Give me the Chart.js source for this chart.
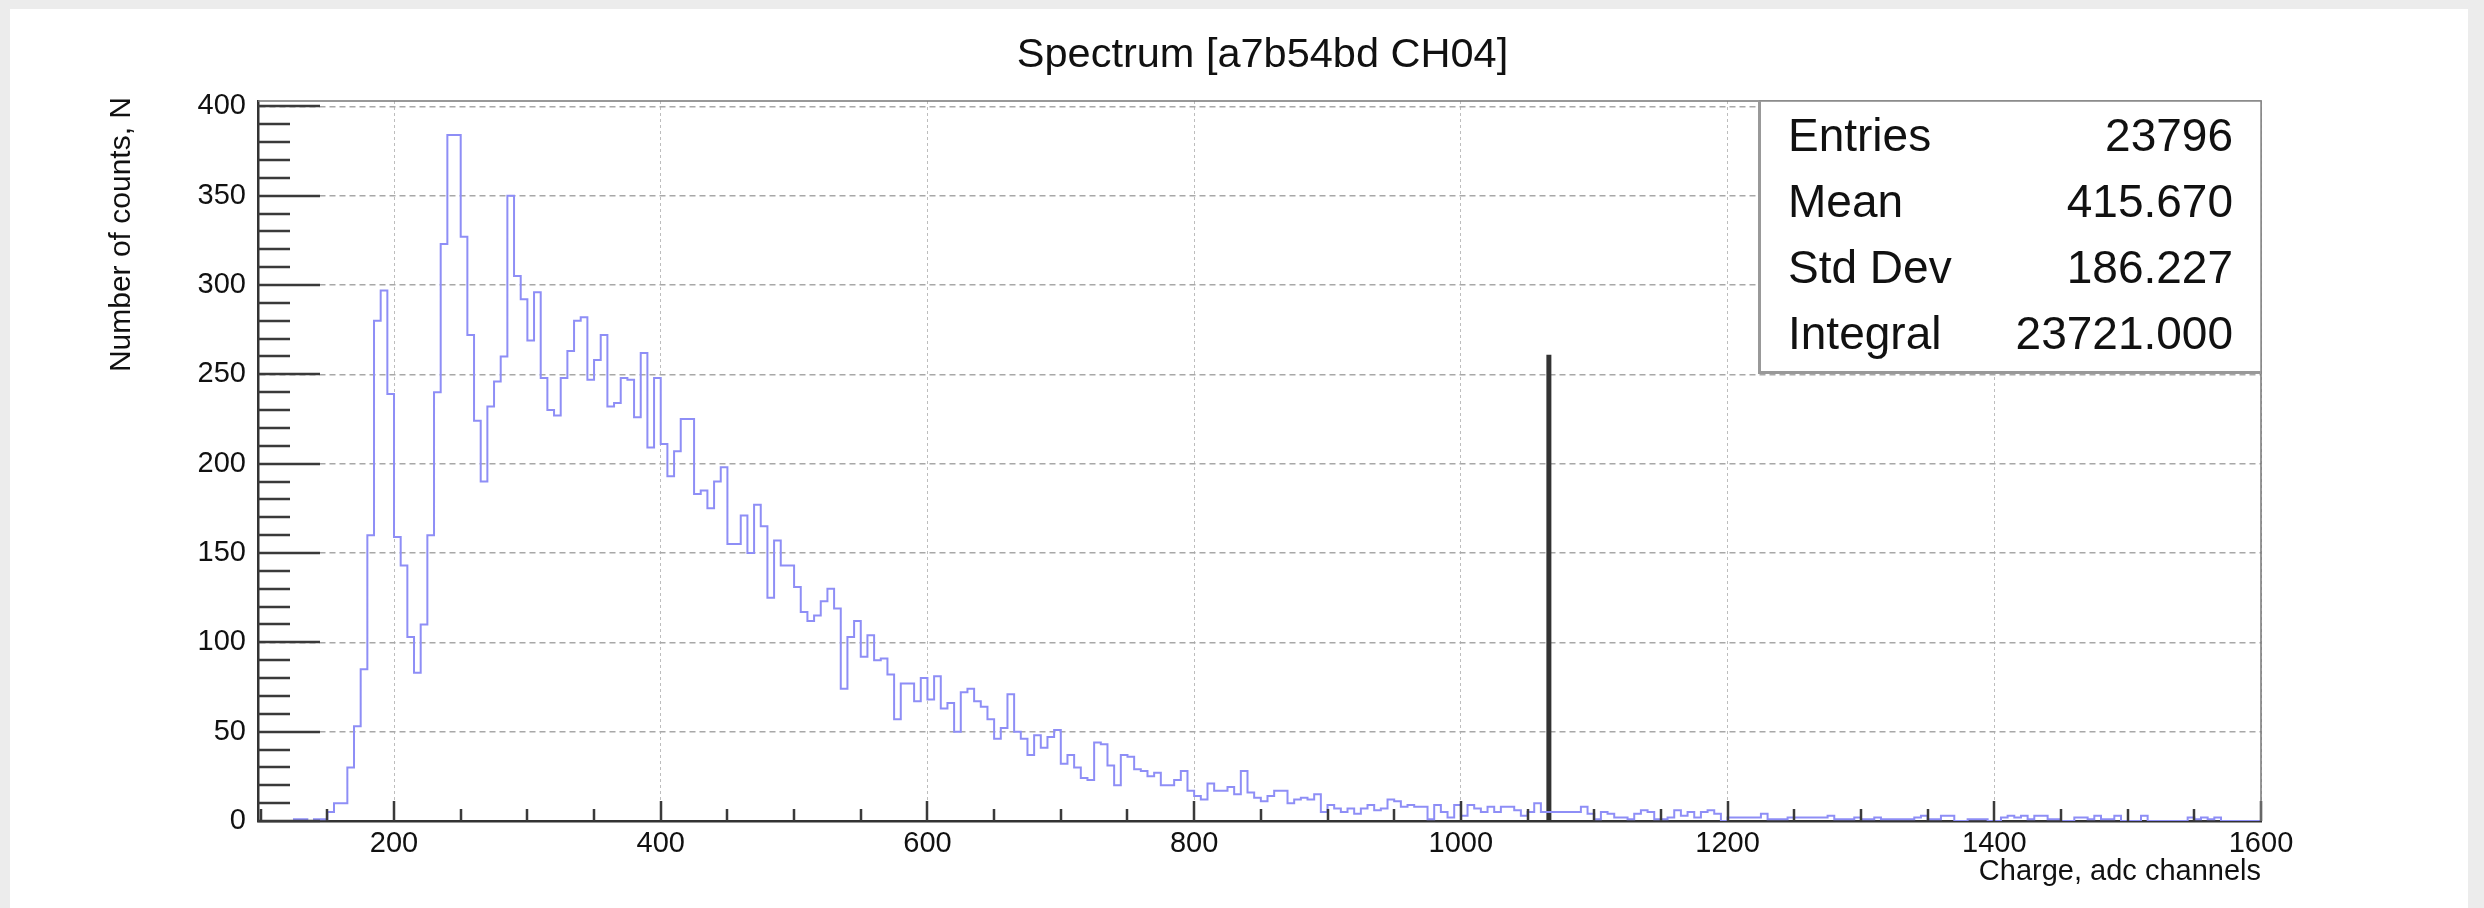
<!DOCTYPE html>
<html>
<head>
<meta charset="utf-8">
<title>Spectrum [a7b54bd CH04]</title>
<script src="https://cdn.jsdelivr.net/npm/chart.js@4.4.0/dist/chart.umd.min.js"></script>
<style>
    html, body { margin: 0; padding: 0; background: #fff; }
    canvas { display: block; }
</style>
</head>
<body>
<canvas id="spectrum" width="2484" height="908"></canvas>
<script>
// binning of the charge histogram, adc channels
const binStart = 100;
const binWidth = 5;

// counts per bin, one row = 100 channels (20 bins)
const countsLow = [
    0, 0, 0, 0, 0, 0, 1, 1, 0, 1, 1, 5, 10, 10, 30, 53, 85, 160, 280, 297,            // 100-195
    239, 159, 143, 103, 83, 110, 160, 240, 323, 384, 384, 327, 272, 224, 190, 232, 246, 260, 350, 305, // 200-295
    292, 269, 296, 248, 230, 227, 248, 263, 280, 282, 247, 258, 272, 232, 234, 248, 247, 226, 262, 209, // 300-395
    248, 211, 193, 207, 225, 225, 183, 185, 175, 190, 198, 155, 155, 171, 150, 177, 165, 125, 157, 143, // 400-495
    143, 131, 117, 112, 115, 123, 130, 119, 74, 103, 112, 92, 104, 90, 91, 82, 57, 77, 77, 67           // 500-595
];
const countsMid = [
    80, 68, 81, 63, 66, 50, 72, 74, 67, 64, 57, 46, 52, 71, 50, 46, 37, 48, 41, 47,   // 600-695
    51, 32, 37, 30, 24, 23, 44, 43, 31, 20, 37, 36, 29, 28, 25, 27, 20, 20, 23, 28,   // 700-795
    17, 14, 12, 21, 17, 17, 19, 15, 28, 16, 13, 11, 14, 17, 17, 10, 12, 13, 12, 15,   // 800-895
    5, 9, 7, 5, 7, 4, 7, 9, 6, 7, 12, 11, 8, 9, 8, 8, 1, 9, 5, 2,                      // 900-995
    9, 3, 9, 7, 5, 8, 5, 8, 8, 6, 3, 5, 10, 5, 5, 5, 5, 5, 5, 8                        // 1000-1095
];
const countsHigh = [
    4, 1, 5, 4, 2, 2, 1, 4, 6, 5, 1, 1, 2, 6, 3, 5, 2, 5, 6, 4,   // 1100-1195
    0, 2, 2, 2, 2, 2, 4, 1, 1, 1, 2, 2, 2, 2, 2, 2, 3, 1, 1, 1,   // 1200-1295
    2, 1, 1, 2, 1, 1, 1, 1, 1, 2, 3, 1, 1, 3, 3, 0, 0, 1, 1, 1,   // 1300-1395
    0, 0, 2, 3, 2, 3, 1, 3, 3, 1, 1, 0, 0, 2, 2, 1, 3, 1, 1, 3,   // 1400-1495
    0, 0, 0, 3, 0, 0, 0, 0, 0, 0, 2, 1, 2, 1, 2, 0, 0, 0, 0, 0    // 1500-1595
];

// threshold marker
const markerChannel = 1066;
const markerHeight = 261;

const xTicks = [200, 400, 600, 800, 1000, 1200, 1400, 1600];
const yTicks = [0, 50, 100, 150, 200, 250, 300, 350, 400];

const statNames = ['Entries', 'Mean', 'Std Dev', 'Integral'];
const statValues = ['23796', '415.670', '186.227', '23721.000'];

const FONT = '"Liberation Sans", Arial, Helvetica, sans-serif';

const counts = countsLow.concat(countsMid, countsHigh);
const histPoints = counts.map((c, i) => ({ x: binStart + i * binWidth, y: c }));
histPoints.push({ x: binStart + counts.length * binWidth, y: counts[counts.length - 1] });

const markerPoints = [
    { x: markerChannel, y: 0 },
    { x: markerChannel, y: markerHeight }
];

// ROOT-style frame, ticks, titles and stats box
const rootDecor = {
    id: 'rootDecor',
    beforeDraw(chart) {
        const ctx = chart.ctx;
        ctx.save();
        ctx.fillStyle = '#fff';
        ctx.fillRect(0, 0, chart.width, chart.height);
        ctx.fillStyle = '#ececec';
        ctx.fillRect(0, 0, chart.width, 9);
        ctx.fillRect(0, 0, 10, chart.height);
        ctx.fillRect(chart.width - 16, 0, 16, chart.height);
        ctx.restore();
    },
    afterDraw(chart) {
        const { ctx, chartArea: area, scales: { x, y } } = chart;
        ctx.save();

        // y tick marks: every 10, long ones every 50
        ctx.strokeStyle = '#3a3a3a';
        ctx.lineWidth = 2.5;
        ctx.beginPath();
        for (let v = 0; v <= 400; v += 10) {
            const py = Math.round(y.getPixelForValue(v));
            const len = v % 50 === 0 ? 62 : 32;
            ctx.moveTo(area.left, py);
            ctx.lineTo(area.left + len, py);
        }
        // x tick marks: every 50, long ones every 200
        for (let v = 100; v <= 1600; v += 50) {
            const px = Math.round(x.getPixelForValue(v));
            const len = v % 200 === 0 ? 20 : 12;
            ctx.moveTo(px, area.bottom);
            ctx.lineTo(px, area.bottom - len);
        }
        ctx.stroke();

        // top and right edges of the frame
        ctx.strokeStyle = '#777';
        ctx.lineWidth = 1.5;
        ctx.beginPath();
        ctx.moveTo(area.left, area.top);
        ctx.lineTo(area.right, area.top);
        ctx.lineTo(area.right, area.bottom);
        ctx.stroke();

        // stats box
        const box = { left: 1760, top: area.top, right: area.right, bottom: 372 };
        ctx.fillStyle = '#fff';
        ctx.fillRect(box.left, box.top, box.right - box.left, box.bottom - box.top);
        ctx.strokeStyle = '#888';
        ctx.lineWidth = 1.5;
        ctx.strokeRect(box.left, box.top, box.right - box.left, box.bottom - box.top);
        ctx.fillStyle = '#999';
        ctx.fillRect(box.left - 2, box.top, 3, box.bottom - box.top + 2);
        ctx.fillRect(box.left - 2, box.bottom - 1, box.right - box.left + 2, 3);

        ctx.fillStyle = '#111';
        ctx.font = '46px ' + FONT;
        ctx.textBaseline = 'alphabetic';
        statNames.forEach((name, i) => {
            const base = box.top + 50 + i * 66;
            ctx.textAlign = 'left';
            ctx.fillText(name, box.left + 28, base);
            ctx.textAlign = 'right';
            ctx.fillText(statValues[i], box.right - 28, base);
        });

        // main title
        ctx.font = '41.5px ' + FONT;
        ctx.textAlign = 'center';
        ctx.fillText('Spectrum [a7b54bd CH04]', (area.left + area.right) / 2 + 3, 67);

        // axis titles, aligned to the far end of each axis
        ctx.font = '29px ' + FONT;
        ctx.textAlign = 'right';
        ctx.fillText('Charge, adc channels', area.right, 880);

        ctx.translate(130, 97);
        ctx.rotate(-Math.PI / 2);
        ctx.font = '30px ' + FONT;
        ctx.textAlign = 'right';
        ctx.fillText('Number of counts, N', 0, 0);

        ctx.restore();
    }
};

const ctx = document.getElementById('spectrum').getContext('2d');

new Chart(ctx, {
    type: 'line',
    data: {
        datasets: [{
            label: 'CH04',
            data: histPoints,
            stepped: 'after',
            borderColor: '#8e8ef6',
            borderWidth: 2,
            pointRadius: 0,
            fill: false
        }, {
            label: 'threshold',
            data: markerPoints,
            borderColor: '#333',
            borderWidth: 5,
            pointRadius: 0,
            fill: false
        }]
    },
    options: {
        responsive: false,
        animation: false,
        devicePixelRatio: 1,
        layout: {
            padding: { left: 0, top: 101, right: 223, bottom: 0 }
        },
        plugins: {
            legend: { display: false },
            tooltip: { enabled: false },
            title: { display: false }
        },
        scales: {
            x: {
                type: 'linear',
                min: 98,
                max: 1600,
                afterFit: scale => { scale.height = 87; },
                afterBuildTicks: scale => { scale.ticks = xTicks.map(v => ({ value: v })); },
                ticks: {
                    color: '#111',
                    font: { family: FONT, size: 29 },
                    padding: 6,
                    maxRotation: 0,
                    autoSkip: false,
                    callback: value => String(value)
                },
                grid: {
                    color: '#bdbdbd',
                    lineWidth: 1,
                    drawTicks: false
                },
                border: { display: true, color: '#333', width: 2.5, dash: [3, 3] }
            },
            y: {
                min: 0,
                max: 403,
                afterFit: scale => { scale.width = 258; },
                afterBuildTicks: scale => { scale.ticks = yTicks.map(v => ({ value: v })); },
                ticks: {
                    color: '#111',
                    font: { family: FONT, size: 29 },
                    padding: 12,
                    autoSkip: false,
                    callback: value => String(value)
                },
                grid: {
                    color: '#a8a8a8',
                    lineWidth: 1.5,
                    drawTicks: false
                },
                border: { display: true, color: '#333', width: 2.5, dash: [6, 4] }
            }
        }
    },
    plugins: [rootDecor]
});
</script>
</body>
</html>
